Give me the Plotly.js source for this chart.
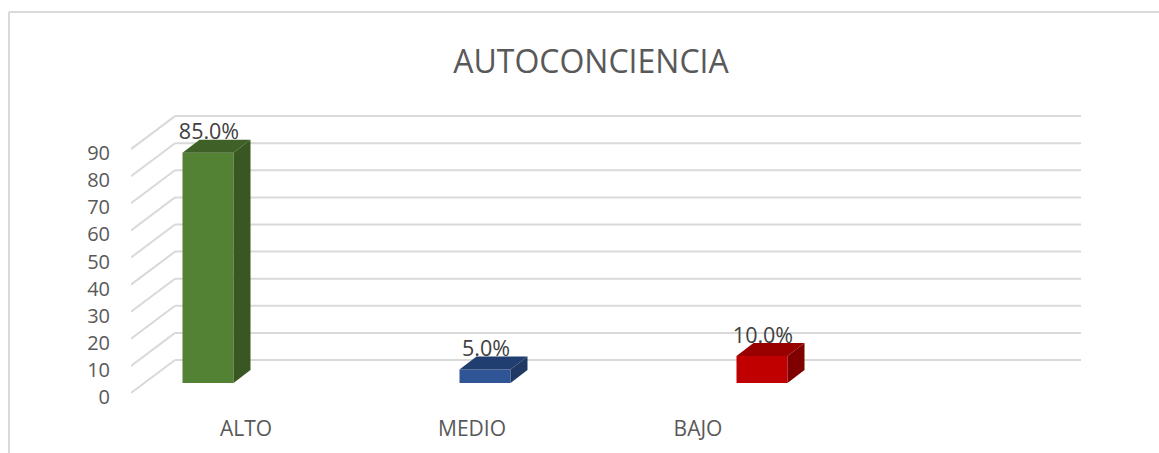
<!DOCTYPE html>
<html>
<head>
<meta charset="utf-8">
<script src="https://cdn.plot.ly/plotly-3.0.1.min.js"></script>
<style>html,body{margin:0;padding:0;background:#fff}</style>
</head>
<body>
<div id="chart" style="width:1159px;height:453px"></div>
<script>
const chartTitle = "AUTOCONCIENCIA";
const categories = ["ALTO", "MEDIO", "BAJO"];
const values = [85, 5, 10];
const valueLabels = ["85.0%", "5.0%", "10.0%"];
const yTicks = [0, 10, 20, 30, 40, 50, 60, 70, 80, 90];
const frontColors = ["#548235", "#2f5597", "#c00000"];
const topColors = ["#3f6128", "#203f70", "#990000"];
const sideColors = ["#385723", "#1f3864", "#7f0000"];

const W = 1159, H = 453;
const L = 131, R = 1081, T = 100, B = 410;
const pxX = 277, pxY = 2.71, zeroY = 393, slot0 = 208;
const xr = [(L - slot0) / pxX, (R - slot0) / pxX];
const yr = [(zeroY - B) / pxY, (zeroY - T) / pxY];
const ux = p => p / pxX, uy = p => p / pxY;

const wallDx = ux(44), wallDy = uy(33);
const barBase = uy(10), barW = ux(51), barDx = ux(17), barDy = uy(13);
const labelX = i => ux(246 - slot0) + i * ux(226);

const shapes = [];
yTicks.forEach(v => {
  const line = (x0, y0, x1, y1) => ({type: "line", layer: "below", xref: "x", yref: "y", x0, y0, x1, y1,
    line: {color: "#d9d9d9", width: 2}});
  shapes.push(line(xr[0], v, xr[0] + wallDx, v + wallDy));
  shapes.push(line(xr[0] + wallDx, v + wallDy, xr[1], v + wallDy));
});
const frame = (x0, y0, x1, y1) => ({type: "line", xref: "paper", yref: "paper",
  x0: (x0 - L) / (R - L), x1: (x1 - L) / (R - L),
  y0: (B - y0) / (B - T), y1: (B - y1) / (B - T),
  line: {color: "#d9d9d9", width: 2}});
shapes.push(frame(9, 12, W, 12));
shapes.push(frame(9, 12, 9, H));

const traces = [{
  type: "bar",
  x: categories.map((c, i) => i),
  y: values,
  base: barBase,
  width: barW,
  marker: {color: frontColors, line: {width: 0}},
  hoverinfo: "skip",
  showlegend: false
}];

categories.forEach((c, i) => {
  const xl = i - barW / 2, xr2 = i + barW / 2;
  const b = barBase, t = barBase + values[i];
  traces.push({type: "scatter", mode: "lines", fill: "toself", fillcolor: sideColors[i],
    x: [xr2, xr2 + barDx, xr2 + barDx, xr2, xr2],
    y: [b, b + barDy, t + barDy, t, b],
    line: {width: 0, color: sideColors[i]}, hoverinfo: "skip", showlegend: false});
  traces.push({type: "scatter", mode: "lines", fill: "toself", fillcolor: topColors[i],
    x: [xl, xr2, xr2 + barDx, xl + barDx, xl],
    y: [t, t, t + barDy, t + barDy, t],
    line: {width: 0, color: topColors[i]}, hoverinfo: "skip", showlegend: false});
});

traces.push({
  type: "scatter", mode: "text",
  x: categories.map((c, i) => i + ux(1)),
  y: values.map(v => v + barBase + barDy - uy(5)),
  text: valueLabels,
  textposition: "top center",
  textfont: {family: "Open Sans, sans-serif", size: 21.5, color: "#404040"},
  cliponaxis: false,
  hoverinfo: "skip",
  showlegend: false
});

const layout = {
  width: W, height: H,
  margin: {l: L, r: W - R, t: T, b: H - B, pad: 0},
  paper_bgcolor: "#ffffff",
  plot_bgcolor: "rgba(0,0,0,0)",
  showlegend: false,
  title: {text: chartTitle, x: 591 / W, xanchor: "center", y: 1 - 62 / H, yanchor: "middle",
    font: {family: "Open Sans, sans-serif", size: 32, color: "#595959"}},
  xaxis: {
    range: xr, showgrid: false, zeroline: false, showline: false, ticks: "",
    tickmode: "array", tickvals: categories.map((c, i) => labelX(i)), ticktext: categories,
    ticklabelstandoff: 4,
    tickfont: {family: "Open Sans, sans-serif", size: 21, color: "#595959"}
  },
  yaxis: {
    range: yr, showgrid: false, zeroline: false, showline: false, ticks: "",
    tickmode: "array", tickvals: yTicks, ticktext: yTicks.map(String),
    ticklabelstandoff: 20, ticklabelshift: 4,
    tickfont: {family: "Open Sans, sans-serif", size: 20, color: "#595959"}
  },
  shapes: shapes
};
Plotly.newPlot("chart", traces, layout, {displayModeBar: false, staticPlot: true});
</script>
</body>
</html>
